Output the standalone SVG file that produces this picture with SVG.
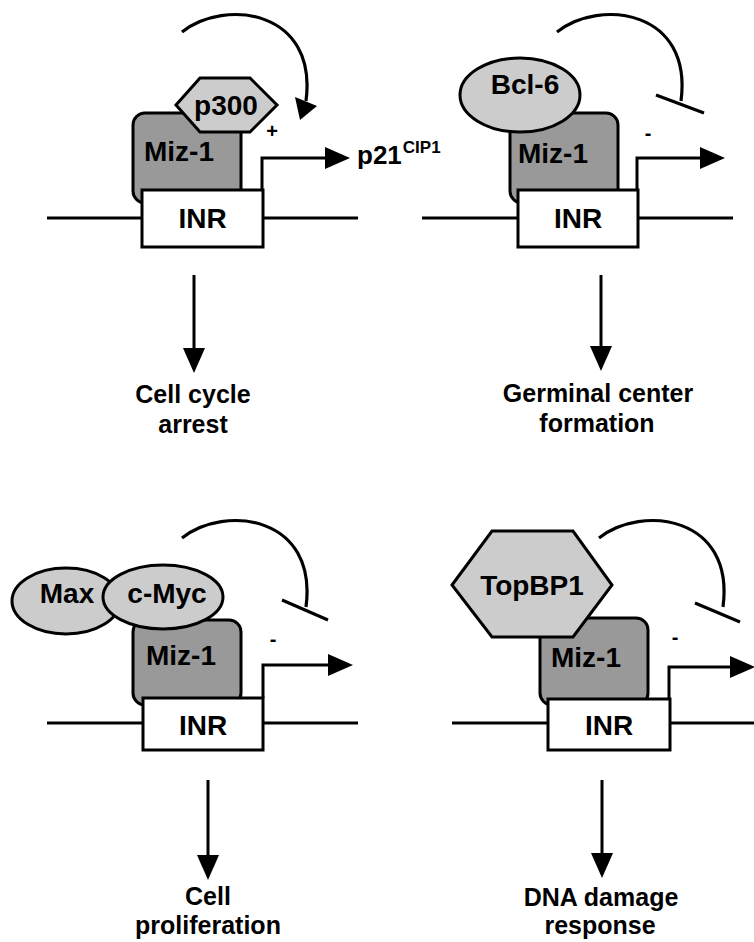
<svg xmlns="http://www.w3.org/2000/svg" width="754" height="942" viewBox="0 0 754 942">
<defs>
<style>
.ln{stroke:#000;stroke-width:3;fill:none}
.arc{stroke:#000;stroke-width:3.2;fill:none}
.miz{fill:#999;stroke:#000;stroke-width:3}
.co{fill:#ccc;stroke:#000;stroke-width:3}
.inr{fill:#fff;stroke:#000;stroke-width:3}
.t{font-family:"Liberation Sans",Arial,Helvetica,sans-serif;font-weight:bold;fill:#000;text-anchor:middle}
.n{font-size:28px}
.lb{font-size:25px}
.s{font-size:20px}
</style>
<marker id="ah" markerUnits="userSpaceOnUse" markerWidth="25" markerHeight="22" viewBox="0 0 25 22" refX="21" refY="11" orient="auto">
<path d="M0,0 L25,11 L0,22 Z" fill="#000"/>
</marker>
</defs>
<rect width="754" height="942" fill="#fff"/>

<g id="dna">
<line class="ln" x1="47" y1="218" x2="358" y2="218"/>
<line class="ln" x1="422" y1="218" x2="733" y2="218"/>
<line class="ln" x1="47" y1="723" x2="358" y2="723"/>
<line class="ln" x1="452" y1="723" x2="756" y2="723"/>
</g>

<!-- Panel 1 -->
<g id="miz1-a"><rect class="miz" x="133" y="113" width="108" height="90" rx="12"/><text class="t n" x="179" y="161">Miz-1</text></g>
<g id="p300"><polygon class="co" points="176,105 200,78 250,78 277,105 250,132 200,132"/><text class="t n" x="226" y="115">p300</text></g>
<g id="inr-a"><rect class="inr" x="142" y="190" width="121" height="57"/><text class="t n" x="202.5" y="228">INR</text></g>
<g id="p21"><text class="t" x="357" y="164" style="text-anchor:start;font-size:26px">p21<tspan dx="1" dy="-11" style="font-size:17px">CIP1</tspan></text></g>
<g id="plus"><text class="t s" x="272" y="138">+</text></g>
<g id="label-a"><text class="t lb" x="193" y="403">Cell cycle</text><text class="t lb" x="193" y="433">arrest</text></g>

<!-- Panel 2 -->
<g id="miz1-b"><rect class="miz" x="510" y="113" width="108" height="90" rx="12"/><text class="t n" x="553" y="163">Miz-1</text></g>
<g id="bcl6"><ellipse class="co" cx="520" cy="95" rx="60" ry="37"/><text class="t n" x="525" y="94">Bcl-6</text></g>
<g id="inr-b"><rect class="inr" x="518" y="190" width="120" height="57"/><text class="t n" x="578" y="228">INR</text></g>
<g id="minus-b"><text class="t s" x="648" y="140">-</text></g>
<g id="label-b"><text class="t lb" x="598" y="402">Germinal center</text><text class="t lb" x="597" y="432">formation</text></g>

<!-- Panel 3 -->
<g id="miz1-c"><rect class="miz" x="133" y="620" width="108" height="85" rx="12"/><text class="t n" x="181" y="665">Miz-1</text></g>
<g id="max"><ellipse class="co" cx="66" cy="601" rx="54" ry="33"/><text class="t n" x="67" y="603">Max</text></g>
<g id="cmyc"><ellipse class="co" cx="163" cy="597" rx="60" ry="32"/><text class="t n" x="167" y="603">c-Myc</text></g>
<g id="inr-c"><rect class="inr" x="143" y="698" width="120" height="52"/><text class="t n" x="203" y="735">INR</text></g>
<g id="minus-c"><text class="t s" x="273" y="646">-</text></g>
<g id="label-c"><text class="t lb" x="208" y="905">Cell</text><text class="t lb" x="208" y="934">proliferation</text></g>

<!-- Panel 4 -->
<g id="miz1-d"><rect class="miz" x="540" y="618" width="108" height="87" rx="12"/><text class="t n" x="586" y="667">Miz-1</text></g>
<g id="topbp1"><polygon class="co" points="452,585 492,531 573,531 612,585 573,637 492,637"/><text class="t n" x="532" y="595">TopBP1</text></g>
<g id="inr-d"><rect class="inr" x="548" y="699" width="122" height="51"/><text class="t n" x="609" y="735">INR</text></g>
<g id="minus-d"><text class="t s" x="675" y="644">-</text></g>
<g id="label-d"><text class="t lb" x="601" y="906">DNA damage</text><text class="t lb" x="600" y="934">response</text></g>

<g id="connectors">
<!-- promoter arrows -->
<path class="ln" d="M262,190 V158 H346" marker-end="url(#ah)"/>
<path class="ln" d="M637,190 V158 H721" marker-end="url(#ah)"/>
<path class="ln" d="M263,698 V665 H349" marker-end="url(#ah)"/>
<path class="ln" d="M669,699 V667 H751" marker-end="url(#ah)"/>
<!-- activation arc -->
<path class="arc" d="M182,32 C225,-2 318,10 306,101"/>
<polygon points="295,97 317,106 300,120" fill="#000"/>
<!-- repression arcs -->
<path class="arc" d="M557,32 C600,-2 693,10 681,101"/>
<line class="ln" x1="656" y1="95" x2="704" y2="113"/>
<path class="arc" d="M182,538 C225,504 318,516 306,607"/>
<line class="ln" x1="282" y1="600" x2="328" y2="620"/>
<path class="arc" d="M599,538 C642,504 735,516 723,607"/>
<line class="ln" x1="695" y1="603" x2="740" y2="622"/>
<!-- outcome arrows -->
<line class="ln" x1="194" y1="275" x2="194" y2="369" marker-end="url(#ah)"/>
<line class="ln" x1="601" y1="275" x2="601" y2="367" marker-end="url(#ah)"/>
<line class="ln" x1="208" y1="780" x2="208" y2="876" marker-end="url(#ah)"/>
<line class="ln" x1="602" y1="780" x2="602" y2="874" marker-end="url(#ah)"/>
</g>
</svg>
